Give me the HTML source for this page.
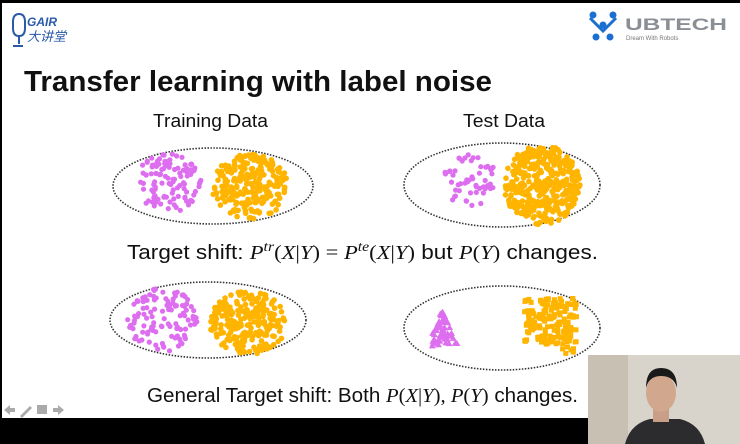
<!DOCTYPE html>
<html><head><meta charset="utf-8"><style>
html,body{margin:0;padding:0;background:#000;}
svg{display:block}
</style></head><body>
<svg id="s" width="740" height="444" viewBox="0 0 740 444" xmlns="http://www.w3.org/2000/svg">
<rect x="0" y="0" width="740" height="444" fill="#000"/>
<rect x="2" y="3" width="738" height="415" fill="#fff"/>
<g fill="#2a5aa8" font-family="Liberation Sans, Noto Sans CJK SC, sans-serif">
<path d="M19 14 q-6 0 -6 8 v6 q0 8 6 8 q6 0 6 -8 v-6 q0 -8 -6 -8z" fill="none" stroke="#2a5aa8" stroke-width="2"/>
<path d="M19 36 v8 M13 46 h10" stroke="#2a5aa8" stroke-width="2"/>
<text x="27" y="26" font-size="12" font-weight="bold" font-style="italic">GAIR</text>
<text x="27" y="41" font-size="13" font-style="italic">大讲堂</text>
</g>
<g fill="#1a6fd0">
<circle cx="593" cy="15" r="3.5"/><circle cx="613" cy="15" r="3.5"/>
<circle cx="603" cy="25" r="3.5"/><circle cx="596" cy="37" r="3.5"/><circle cx="610" cy="37" r="3.5"/>
<path d="M590 18 L603 31 L616 18" fill="none" stroke="#1a6fd0" stroke-width="3"/>
</g>
<text x="625" y="30" font-family="Liberation Sans, sans-serif" font-size="17" font-weight="bold" fill="#8a8f96" textLength="102" lengthAdjust="spacingAndGlyphs">UBTECH</text>
<text x="626" y="40" font-family="Liberation Sans, sans-serif" font-size="6" fill="#777">Dream With Robots</text>
<text x="24" y="91" font-family="Liberation Sans, sans-serif" font-size="29" font-weight="bold" fill="#111" textLength="468" lengthAdjust="spacingAndGlyphs">Transfer learning with label noise</text>
<text x="153" y="127" font-family="Liberation Sans, sans-serif" font-size="18" fill="#111" textLength="115" lengthAdjust="spacingAndGlyphs">Training Data</text>
<text x="463" y="127" font-family="Liberation Sans, sans-serif" font-size="18" fill="#111" textLength="82" lengthAdjust="spacingAndGlyphs">Test Data</text>
<g fill="none" stroke="#333" stroke-width="1.6" stroke-dasharray="1.5 1.5">
<ellipse cx="213" cy="186" rx="100" ry="38"/>
<ellipse cx="502" cy="185" rx="98" ry="42"/>
<ellipse cx="208" cy="320" rx="98" ry="38"/>
<ellipse cx="502" cy="328" rx="98" ry="42"/>
</g>
<g id="dots"></g>
<text x="127" y="259" font-family="Liberation Serif, serif" font-size="20" fill="#111" textLength="471" lengthAdjust="spacingAndGlyphs"><tspan font-family="Liberation Sans, sans-serif">Target shift: </tspan><tspan font-style="italic">P</tspan><tspan font-style="italic" font-size="14" dy="-8">tr</tspan><tspan dy="8">(</tspan><tspan font-style="italic">X</tspan>|<tspan font-style="italic">Y</tspan>) = <tspan font-style="italic">P</tspan><tspan font-style="italic" font-size="14" dy="-8">te</tspan><tspan dy="8">(</tspan><tspan font-style="italic">X</tspan>|<tspan font-style="italic">Y</tspan>)<tspan font-family="Liberation Sans, sans-serif"> but </tspan><tspan font-style="italic">P</tspan>(<tspan font-style="italic">Y</tspan>)<tspan font-family="Liberation Sans, sans-serif"> changes.</tspan></text>
<text x="147" y="402" font-family="Liberation Serif, serif" font-size="20" fill="#111" textLength="431" lengthAdjust="spacingAndGlyphs"><tspan font-family="Liberation Sans, sans-serif">General Target shift: Both </tspan><tspan font-style="italic">P</tspan>(<tspan font-style="italic">X</tspan>|<tspan font-style="italic">Y</tspan>), <tspan font-style="italic">P</tspan>(<tspan font-style="italic">Y</tspan>)<tspan font-family="Liberation Sans, sans-serif"> changes.</tspan></text>
<g fill="#aaa"><path d="M4 410 l6 -5 v3 h5 v4 h-5 v3z"/><path d="M20 416 l10 -10 l2 2 l-10 10z"/><rect x="37" y="405" width="10" height="9"/><path d="M64 410 l-6 -5 v3 h-5 v4 h5 v3z"/></g>
<rect x="588" y="355" width="152" height="89" fill="#d8d3cb"/>
<rect x="588" y="355" width="40" height="89" fill="#c9c0b4"/>
<path d="M625 444 q5 -20 25 -25 h30 q20 5 25 25z" fill="#2c2c2e"/>
<rect x="653" y="408" width="16" height="14" fill="#c89f86"/>
<ellipse cx="661" cy="393" rx="15" ry="19" fill="#d1a88e"/>
<path d="M646 388 q0 -20 15 -20 q16 0 16 20 q-3 -12 -16 -12 q-12 0 -15 12z" fill="#1a1a1a"/>
</svg>
<script>
var seed=7;function r(){seed=(seed*16807)%2147483647;return seed/2147483647;}
var g=document.getElementById('dots'),h='';
function cl(cx,cy,rx,ry,n,col,rad){for(var i=0;i<n;i++){var a=r()*6.283,d=Math.sqrt(r());h+='<circle cx="'+(cx+Math.cos(a)*d*rx).toFixed(1)+'" cy="'+(cy+Math.sin(a)*d*ry).toFixed(1)+'" r="'+rad+'" fill="'+col+'"/>';}}
var P='#de6ef0',O='#ffb400';
cl(168,183,33,30,110,P,2.6);cl(250,187,38,33,230,O,2.8);
cl(470,180,28,26,55,P,2.6);cl(542,185,38,40,380,O,2.8);
cl(163,320,36,32,110,P,2.6);cl(248,323,38,33,230,O,2.8);
for(var i=0;i<70;i++){var y=312+r()*34,w=(y-310)*0.45,x=442+(r()*2-1)*w;h+='<path d="M'+x.toFixed(1)+' '+(y-3.5).toFixed(1)+' l3.5 6 h-7z" fill="'+P+'"/>';}
for(var i=0;i<170;i++){var x=522+r()*52,y=296+r()*(x>560?56:46);h+='<rect x="'+x.toFixed(1)+'" y="'+y.toFixed(1)+'" width="5" height="5" fill="'+O+'"/>';}
g.innerHTML=h;
</script>
</body></html>
